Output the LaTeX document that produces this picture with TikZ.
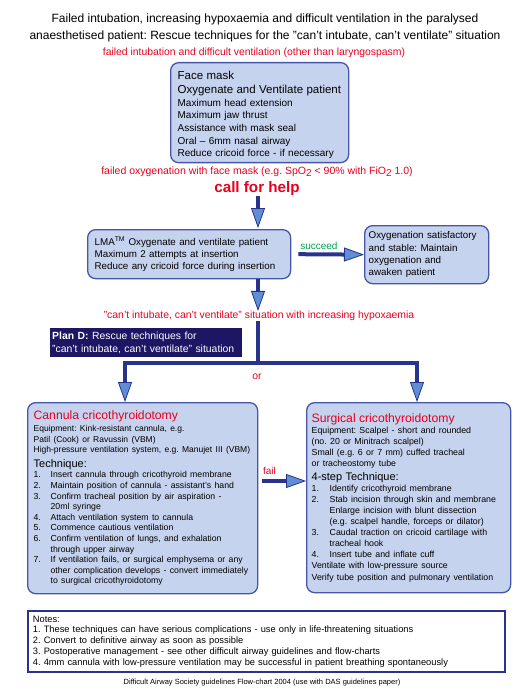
\documentclass[tikz,border=0pt]{standalone}
\usepackage{fontspec}
\setmainfont{Liberation Sans}
\usetikzlibrary{arrows.meta}
\hyphenpenalty=10000
\exhyphenpenalty=10000
\frenchspacing
\definecolor{boxfill}{RGB}{198,211,239}
\definecolor{boxline}{RGB}{72,86,168}
\definecolor{navy}{RGB}{40,52,140}
\definecolor{headfill}{RGB}{96,142,214}
\definecolor{plandfill}{RGB}{28,22,100}
\definecolor{redtxt}{RGB}{230,0,30}
\definecolor{greentxt}{RGB}{0,160,80}
\newcommand\itm[1]{\makebox[17pt][l]{#1}}
\newcommand\itmsp{\hspace*{17pt}}
\newcommand\sitm[1]{\makebox[18pt][l]{#1}}
\newcommand\sitmsp{\hspace*{18pt}}
\tikzset{
  bluebox/.style={draw=boxline, fill=boxfill, line width=1.3pt, rounded corners=8pt, anchor=north west, align=left, inner ysep=0pt},
  redlabel/.style={text=redtxt, font=\fontsize{10.4}{12}\selectfont, inner sep=0pt},
  arr/.style={draw=navy, line width=4pt, -{Triangle[width=14pt,length=20pt,fill=headfill,line width=0.8pt]}},
  shaft/.style={draw=navy, line width=4pt},
}
\begin{document}
\begin{tikzpicture}[x=1pt,y=-1pt]
\useasboundingbox (0,0) rectangle (530,695);
% title
\node[align=center, font=\fontsize{12}{17}\selectfont, inner sep=0pt] (title) at (265,28)
  {Failed intubation, increasing hypoxaemia and difficult ventilation in the paralysed\\anaesthetised patient: Rescue techniques for the "can't intubate, can't ventilate" situation};
\node[redlabel] (fi) at (254,53) {failed intubation and difficult ventilation (other than laryngospasm)};
% face mask
\node[bluebox, minimum width=178pt, minimum height=100pt, text width=164pt, inner xsep=7pt] (fm) at (170,62)
  {{\fontsize{11.5}{14}\selectfont \rule{0pt}{13pt}Face mask\\Oxygenate and Ventilate patient\par}
   {\fontsize{10}{12.6}\selectfont Maximum head extension\\Maximum jaw thrust\\Assistance with mask seal\\Oral -- 6mm nasal airway\\Reduce cricoid force - if necessary\par}};
\node[redlabel, font=\fontsize{10.5}{12}\selectfont] (fo) at (257,172) {failed oxygenation with face mask (e.g. SpO\raisebox{-1.5pt}{\fontsize{10}{9}\selectfont 2} {<} 90\% with FiO\raisebox{-1.5pt}{\fontsize{10}{9}\selectfont 2} 1.0)};
\node[text=redtxt, font=\bfseries\fontsize{15.2}{17}\selectfont, inner sep=0pt] (help) at (257,189) {call for help};
% LMA
\node[bluebox, minimum width=203pt, minimum height=49pt, text width=189pt, inner xsep=7pt] (lma) at (87,229)
  {\fontsize{9.8}{12.5}\selectfont LMA\textsuperscript{TM} Oxygenate and ventilate patient\\Maximum 2 attempts at insertion\\Reduce any cricoid force during insertion};
\node[bluebox, minimum width=124pt, minimum height=58pt, text width=116pt, inner xsep=4pt] (ok) at (364,225)
  {\fontsize{9.8}{12.4}\selectfont Oxygenation satisfactory\\and stable: Maintain\\oxygenation and\\awaken patient};
\draw[arr, shorten <=7pt] (lma.east) -- node[pos=0.38, above=3pt, text=greentxt, font=\fontsize{10}{12}\selectfont, inner sep=0pt] (succ) {succeed} (ok.west);
\draw[arr] (help.south -| 258,0) -- (258,228);
% cicv
\node[redlabel] (cicv) at (259,316) {"can't intubate, can't ventilate" situation with increasing hypoxaemia};
\draw[arr] (258,279) -- (cicv.north -| 258,0);
% plan D
\node[fill=plandfill, anchor=north west, minimum width=192pt, minimum height=29pt, text width=188pt, inner xsep=2pt, inner ysep=0pt, align=left, text=white, font=\fontsize{10.4}{13}\selectfont] (pland) at (50,328)
  {\textbf{Plan D:} Rescue techniques for\\"can't intubate, can't ventilate" situation};
\coordinate (jm) at (258,363);
\coordinate (jl) at (125,363);
\coordinate (jr) at (417,363);
\draw[shaft] (cicv.south -| jm) -- (jm);
\node[text=redtxt, font=\fontsize{10.4}{12}\selectfont, inner sep=0pt] (or) at (257,377) {or};
% cannula
\node[bluebox, minimum width=230pt, minimum height=191pt, text width=218pt, inner xsep=6pt] (cann) at (27,402)
  {{\fontsize{12.2}{14}\selectfont\color{redtxt}Cannula cricothyroidotomy\par}
   \vspace{1.5pt}
   {\fontsize{8.5}{10.6}\selectfont Equipment: Kink-resistant cannula, e.g.\\Patil (Cook) or Ravussin (VBM)\\High-pressure ventilation system, e.g. Manujet III (VBM)\par}
   \vspace{1pt}
   {\fontsize{11}{13.5}\selectfont Technique:\par}
   {\fontsize{8.7}{10.6}\selectfont \itm{1.}Insert cannula through cricothyroid membrane\\
   \itm{2.}Maintain position of cannula - assistant's hand\\
   \itm{3.}Confirm tracheal position by air aspiration -\\
   \itmsp 20ml syringe\\
   \itm{4.}Attach ventilation system to cannula\\
   \itm{5.}Commence cautious ventilation\\
   \itm{6.}Confirm ventilation of lungs, and exhalation\\
   \itmsp through upper airway\\
   \itm{7.}If ventilation fails, or surgical emphysema or any\\
   \itmsp other complication develops - convert immediately\\
   \itmsp to surgical cricothyroidotomy\par}\vspace{3pt}};
% surgical
\node[bluebox, minimum width=204pt, minimum height=190pt, text width=194pt, inner xsep=5pt] (surg) at (306,402)
  {{\fontsize{12.2}{14}\selectfont\color{redtxt}Surgical cricothyroidotomy\par}
   {\fontsize{8.8}{11.1}\selectfont Equipment: Scalpel - short and rounded\\(no. 20 or Minitrach scalpel)\\Small (e.g. 6 or 7 mm) cuffed tracheal\\or tracheostomy tube\par}
   {\fontsize{11}{13.5}\selectfont 4-step Technique:\par}
   {\fontsize{8.8}{11.1}\selectfont \sitm{1.}Identify cricothyroid membrane\\
   \sitm{2.}Stab incision through skin and membrane\\
   \sitmsp Enlarge incision with blunt dissection\\
   \sitmsp (e.g. scalpel handle, forceps or dilator)\\
   \sitm{3.}Caudal traction on cricoid cartilage with\\
   \sitmsp tracheal hook\\
   \sitm{4.}Insert tube and inflate cuff\\
   Ventilate with low-pressure source\\
   Verify tube position and pulmonary ventilation\par}};
\draw[arr] (jm) -- (jl) -- (jl |- cann.north);
\draw[arr] (jm) -- (jr) -- (jr |- surg.north);
\coordinate (failpt) at (262,481);
\draw[arr] (failpt) -- node[pos=0.17, above=4pt, text=redtxt, font=\fontsize{10}{12}\selectfont, inner sep=0pt] (fail) {fail} (failpt -| surg.west);
% notes
\node[draw=navy, line width=1.8pt, anchor=north west, minimum width=477pt, minimum height=61pt, text width=467pt, inner xsep=5pt, inner ysep=0pt, align=left, font=\fontsize{9.3}{10.8}\selectfont] (notes) at (27,610)
  {Notes:\\1. These techniques can have serious complications - use only in life-threatening situations\\2. Convert to definitive airway as soon as possible\\3. Postoperative management - see other difficult airway guidelines and flow-charts\\4. 4mm cannula with low-pressure ventilation may be successful in patient breathing spontaneously};
\node[font=\fontsize{7.5}{8}\selectfont, inner sep=0pt] (foot) at (262,683) {Difficult Airway Society guidelines Flow-chart 2004 (use with DAS guidelines paper)};
\end{tikzpicture}
\end{document}
